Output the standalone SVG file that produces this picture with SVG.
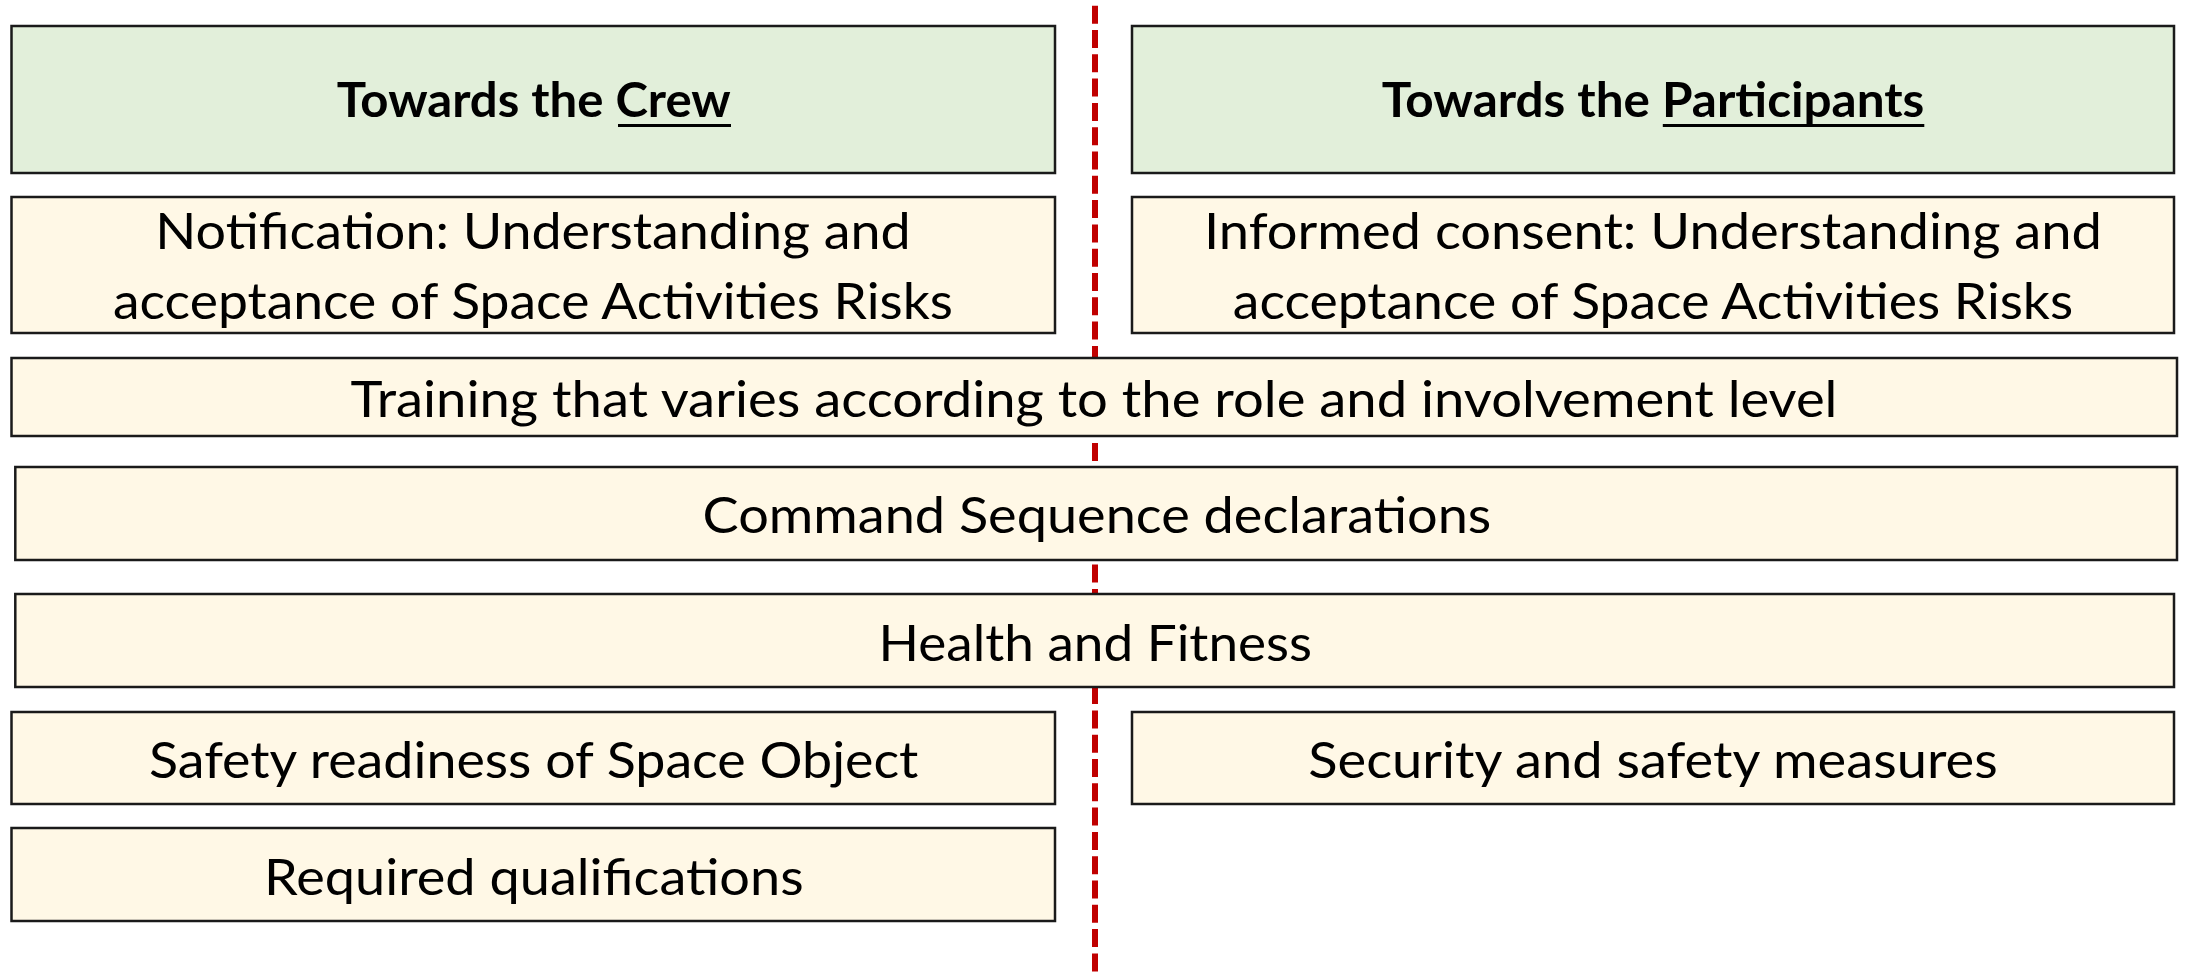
<svg xmlns="http://www.w3.org/2000/svg" width="2185" height="975" viewBox="0 0 2185 975">
<style>
.hdr{fill:#E2EFDA;stroke:#1a1a1a;stroke-width:2.5}
.box{fill:#FFF8E6;stroke:#1a1a1a;stroke-width:2.5}
.t{font-family:Lato,"Open Sans","Liberation Sans",sans-serif;font-size:51px;fill:#000;text-anchor:middle}
.b{font-family:Lato,"Open Sans","Liberation Sans",sans-serif;font-size:48px;font-weight:bold;fill:#000;text-anchor:middle}
.ul{stroke:#000;stroke-width:3}
.div{stroke:#C00000;stroke-width:6;stroke-dasharray:18 6.3;fill:none}
</style>
<rect width="2185" height="975" fill="#fff"/>
<g id="divider">
<line class="div" x1="1095" y1="5.7" x2="1095" y2="973"/>
</g>
<g id="crew-header">
<rect class="hdr" x="11.5" y="26" width="1043.5" height="147"/>
<text class="b" x="533.8" y="117" textLength="394" lengthAdjust="spacingAndGlyphs">Towards the Crew</text>
<line class="ul" x1="618" y1="125.5" x2="731" y2="125.5"/>
</g>
<g id="participants-header">
<rect class="hdr" x="1132" y="26" width="1042" height="147"/>
<text class="b" x="1653" y="117" textLength="542.7" lengthAdjust="spacingAndGlyphs">Towards the Participants</text>
<line class="ul" x1="1662.8" y1="125.5" x2="1924.3" y2="125.5"/>
</g>
<g id="notification">
<rect class="box" x="11.5" y="197" width="1043.5" height="136"/>
<text class="t" x="533" y="249" textLength="755.3" lengthAdjust="spacingAndGlyphs">Notification: Understanding and</text>
<text class="t" x="533" y="319" textLength="840" lengthAdjust="spacingAndGlyphs">acceptance of Space Activities Risks</text>
</g>
<g id="informed-consent">
<rect class="box" x="1132" y="197" width="1042" height="136"/>
<text class="t" x="1653" y="249" textLength="897.9" lengthAdjust="spacingAndGlyphs">Informed consent: Understanding and</text>
<text class="t" x="1653" y="319" textLength="840.4" lengthAdjust="spacingAndGlyphs">acceptance of Space Activities Risks</text>
</g>
<g id="training">
<rect class="box" x="11.5" y="358" width="2165.5" height="78"/>
<text class="t" x="1094" y="416.7" textLength="1486.9" lengthAdjust="spacingAndGlyphs">Training that varies according to the role and involvement level</text>
</g>
<g id="command-sequence">
<rect class="box" x="15.3" y="467" width="2161.7" height="93"/>
<text class="t" x="1096.9" y="533" textLength="788.7" lengthAdjust="spacingAndGlyphs">Command Sequence declarations</text>
</g>
<g id="health">
<rect class="box" x="15.3" y="594" width="2158.7" height="93"/>
<text class="t" x="1095.3" y="660.7" textLength="433.4" lengthAdjust="spacingAndGlyphs">Health and Fitness</text>
</g>
<g id="safety-readiness">
<rect class="box" x="11.5" y="712" width="1043.5" height="92"/>
<text class="t" x="533.7" y="777.7" textLength="769.4" lengthAdjust="spacingAndGlyphs">Safety readiness of Space Object</text>
</g>
<g id="security">
<rect class="box" x="1132" y="712" width="1042" height="92"/>
<text class="t" x="1653" y="777.7" textLength="689.3" lengthAdjust="spacingAndGlyphs">Security and safety measures</text>
</g>
<g id="qualifications">
<rect class="box" x="11.5" y="828" width="1043.5" height="93"/>
<text class="t" x="533.8" y="895" textLength="539.6" lengthAdjust="spacingAndGlyphs">Required qualifications</text>
</g>
</svg>
